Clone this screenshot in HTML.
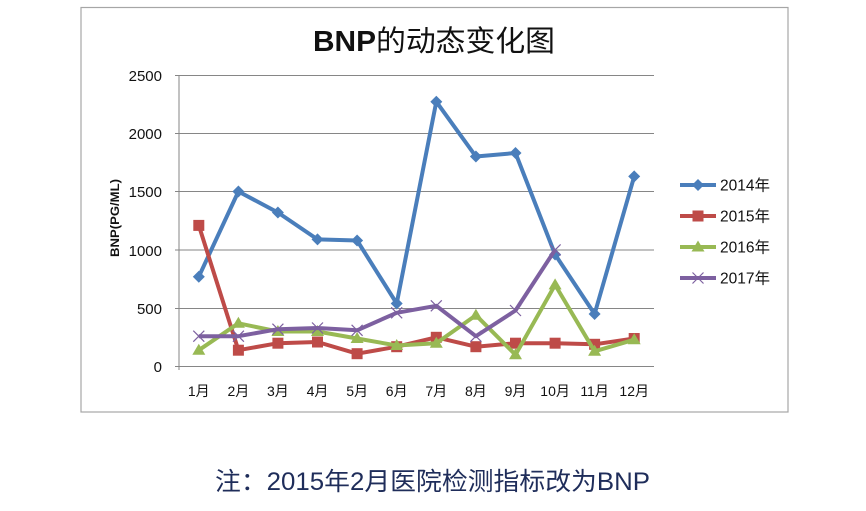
<!DOCTYPE html>
<html><head><meta charset="utf-8"><style>
html,body{margin:0;padding:0;background:#fff;}
svg{display:block;}
text{font-family:"Liberation Sans","Noto Sans CJK SC",sans-serif;}
</style></head><body>
<svg width="866" height="511" viewBox="0 0 866 511" xmlns="http://www.w3.org/2000/svg">
<rect x="0" y="0" width="866" height="511" fill="#fff"/>
<rect x="81" y="7.5" width="707" height="404.5" fill="#fff" stroke="#a6a6a6" stroke-width="1.2"/>
<text x="313" y="51" font-size="29" textLength="242" lengthAdjust="spacingAndGlyphs" fill="#111"><tspan font-weight="bold">BNP</tspan>的动态变化图</text>
<g stroke="#868686" stroke-width="1">
<line x1="175" y1="75.5" x2="654" y2="75.5"/>
<line x1="175" y1="133.5" x2="654" y2="133.5"/>
<line x1="175" y1="191.5" x2="654" y2="191.5"/>
<line x1="175" y1="250" x2="654" y2="250"/>
<line x1="175" y1="308.5" x2="654" y2="308.5"/>
<line x1="175" y1="366.5" x2="654" y2="366.5"/>
<line x1="179" y1="75" x2="179" y2="370"/>
</g>
<g font-size="15" fill="#111" text-anchor="end">
<text x="162" y="81">2500</text>
<text x="162" y="139">2000</text>
<text x="162" y="197">1500</text>
<text x="162" y="256">1000</text>
<text x="162" y="314">500</text>
<text x="162" y="372">0</text>
</g>
<text transform="translate(119,218) rotate(-90)" text-anchor="middle" font-size="12" font-weight="bold" fill="#111" textLength="78" lengthAdjust="spacingAndGlyphs">BNP(PG/ML)</text>
<g font-size="14" fill="#111" text-anchor="middle">
<text x="198.8" y="396">1月</text>
<text x="238.4" y="396">2月</text>
<text x="277.9" y="396">3月</text>
<text x="317.5" y="396">4月</text>
<text x="357.1" y="396">5月</text>
<text x="396.7" y="396">6月</text>
<text x="436.3" y="396">7月</text>
<text x="475.9" y="396">8月</text>
<text x="515.5" y="396">9月</text>
<text x="555.1" y="396">10月</text>
<text x="594.6" y="396">11月</text>
<text x="634.2" y="396">12月</text>
</g>
<!-- 2014 -->
<polyline fill="none" stroke="#4a7ebb" stroke-width="4" stroke-linejoin="round" points="198.8,276.7 238.4,191.5 277.9,212.5 317.5,239.4 357.1,240.5 396.7,303.5 436.3,101.7 475.9,156.5 515.5,153.0 555.1,254.5 594.6,314.0 634.2,176.4"/>
<g fill="#4a7ebb">
<path d="M198.8,270.7l6,6l-6,6l-6,-6z"/><path d="M238.4,185.5l6,6l-6,6l-6,-6z"/><path d="M277.9,206.5l6,6l-6,6l-6,-6z"/><path d="M317.5,233.4l6,6l-6,6l-6,-6z"/><path d="M357.1,234.5l6,6l-6,6l-6,-6z"/><path d="M396.7,297.5l6,6l-6,6l-6,-6z"/><path d="M436.3,95.7l6,6l-6,6l-6,-6z"/><path d="M475.9,150.5l6,6l-6,6l-6,-6z"/><path d="M515.5,147l6,6l-6,6l-6,-6z"/><path d="M555.1,248.5l6,6l-6,6l-6,-6z"/><path d="M594.6,308l6,6l-6,6l-6,-6z"/><path d="M634.2,170.4l6,6l-6,6l-6,-6z"/>
</g>
<!-- 2015 -->
<polyline fill="none" stroke="#be4b48" stroke-width="4" stroke-linejoin="round" points="198.8,225.4 238.4,350.2 277.9,343.2 317.5,342.0 357.1,353.7 396.7,346.7 436.3,337.3 475.9,346.7 515.5,343.2 555.1,343.2 594.6,344.3 634.2,338.5"/>
<g fill="#be4b48">
<rect x="193.3" y="219.9" width="11" height="11"/><rect x="232.9" y="344.7" width="11" height="11"/><rect x="272.4" y="337.7" width="11" height="11"/><rect x="312" y="336.5" width="11" height="11"/><rect x="351.6" y="348.2" width="11" height="11"/><rect x="391.2" y="341.2" width="11" height="11"/><rect x="430.8" y="331.8" width="11" height="11"/><rect x="470.4" y="341.2" width="11" height="11"/><rect x="510" y="337.7" width="11" height="11"/><rect x="549.6" y="337.7" width="11" height="11"/><rect x="589.1" y="338.8" width="11" height="11"/><rect x="628.7" y="333" width="11" height="11"/>
</g>
<!-- 2016 -->
<polyline fill="none" stroke="#98b954" stroke-width="4" stroke-linejoin="round" points="198.8,350.2 238.4,323.3 277.9,331.5 317.5,331.5 357.1,338.5 396.7,345.5 436.3,343.2 475.9,315.2 515.5,354.8 555.1,284.9 594.6,351.3 634.2,339.7"/>
<g fill="#98b954">
<path d="M198.8,343.7l6.5,11h-13z"/><path d="M238.4,316.8l6.5,11h-13z"/><path d="M277.9,325l6.5,11h-13z"/><path d="M317.5,325l6.5,11h-13z"/><path d="M357.1,332l6.5,11h-13z"/><path d="M396.7,339l6.5,11h-13z"/><path d="M436.3,336.7l6.5,11h-13z"/><path d="M475.9,308.7l6.5,11h-13z"/><path d="M515.5,348.3l6.5,11h-13z"/><path d="M555.1,278.4l6.5,11h-13z"/><path d="M594.6,344.8l6.5,11h-13z"/><path d="M634.2,333.2l6.5,11h-13z"/>
</g>
<!-- 2017 -->
<polyline fill="none" stroke="#7d60a0" stroke-width="4" stroke-linejoin="round" points="198.8,336.2 238.4,336.2 277.9,329.2 317.5,328.0 357.1,330.3 396.7,312.8 436.3,305.8 475.9,336.2 515.5,310.5 555.1,249.9"/>
<g stroke="#7d60a0" stroke-width="1.2">
<path d="M193.3,330.7l11,11M204.3,330.7l-11,11"/><path d="M232.9,330.7l11,11M243.9,330.7l-11,11"/><path d="M272.4,323.7l11,11M283.4,323.7l-11,11"/><path d="M312,322.5l11,11M323,322.5l-11,11"/><path d="M351.6,324.8l11,11M362.6,324.8l-11,11"/><path d="M391.2,307.3l11,11M402.2,307.3l-11,11"/><path d="M430.8,300.3l11,11M441.8,300.3l-11,11"/><path d="M470.4,330.7l11,11M481.4,330.7l-11,11"/><path d="M510,305l11,11M521,305l-11,11"/><path d="M549.6,244.4l11,11M560.6,244.4l-11,11"/>
</g>
<!-- legend -->
<line x1="680" y1="185" x2="716" y2="185" stroke="#4a7ebb" stroke-width="4"/>
<path d="M698,179l6,6l-6,6l-6,-6z" fill="#4a7ebb"/>
<line x1="680" y1="216" x2="716" y2="216" stroke="#be4b48" stroke-width="4"/>
<rect x="692.5" y="210.5" width="11" height="11" fill="#be4b48"/>
<line x1="680" y1="247" x2="716" y2="247" stroke="#98b954" stroke-width="4"/>
<path d="M698,240.5l6.5,11h-13z" fill="#98b954"/>
<line x1="680" y1="278" x2="716" y2="278" stroke="#7d60a0" stroke-width="4"/>
<path d="M692.5,272.5l11,11M703.5,272.5l-11,11" stroke="#7d60a0" stroke-width="1.2"/>
<g font-size="15.5" fill="#111">
<text x="720" y="190.5">2014年</text>
<text x="720" y="221.5">2015年</text>
<text x="720" y="252.5">2016年</text>
<text x="720" y="283.5">2017年</text>
</g>
<text x="215" y="490" font-size="25" fill="#1f2d5a" textLength="435" lengthAdjust="spacingAndGlyphs">注：2015年2月医院检测指标改为BNP</text>
</svg>
</body></html>
